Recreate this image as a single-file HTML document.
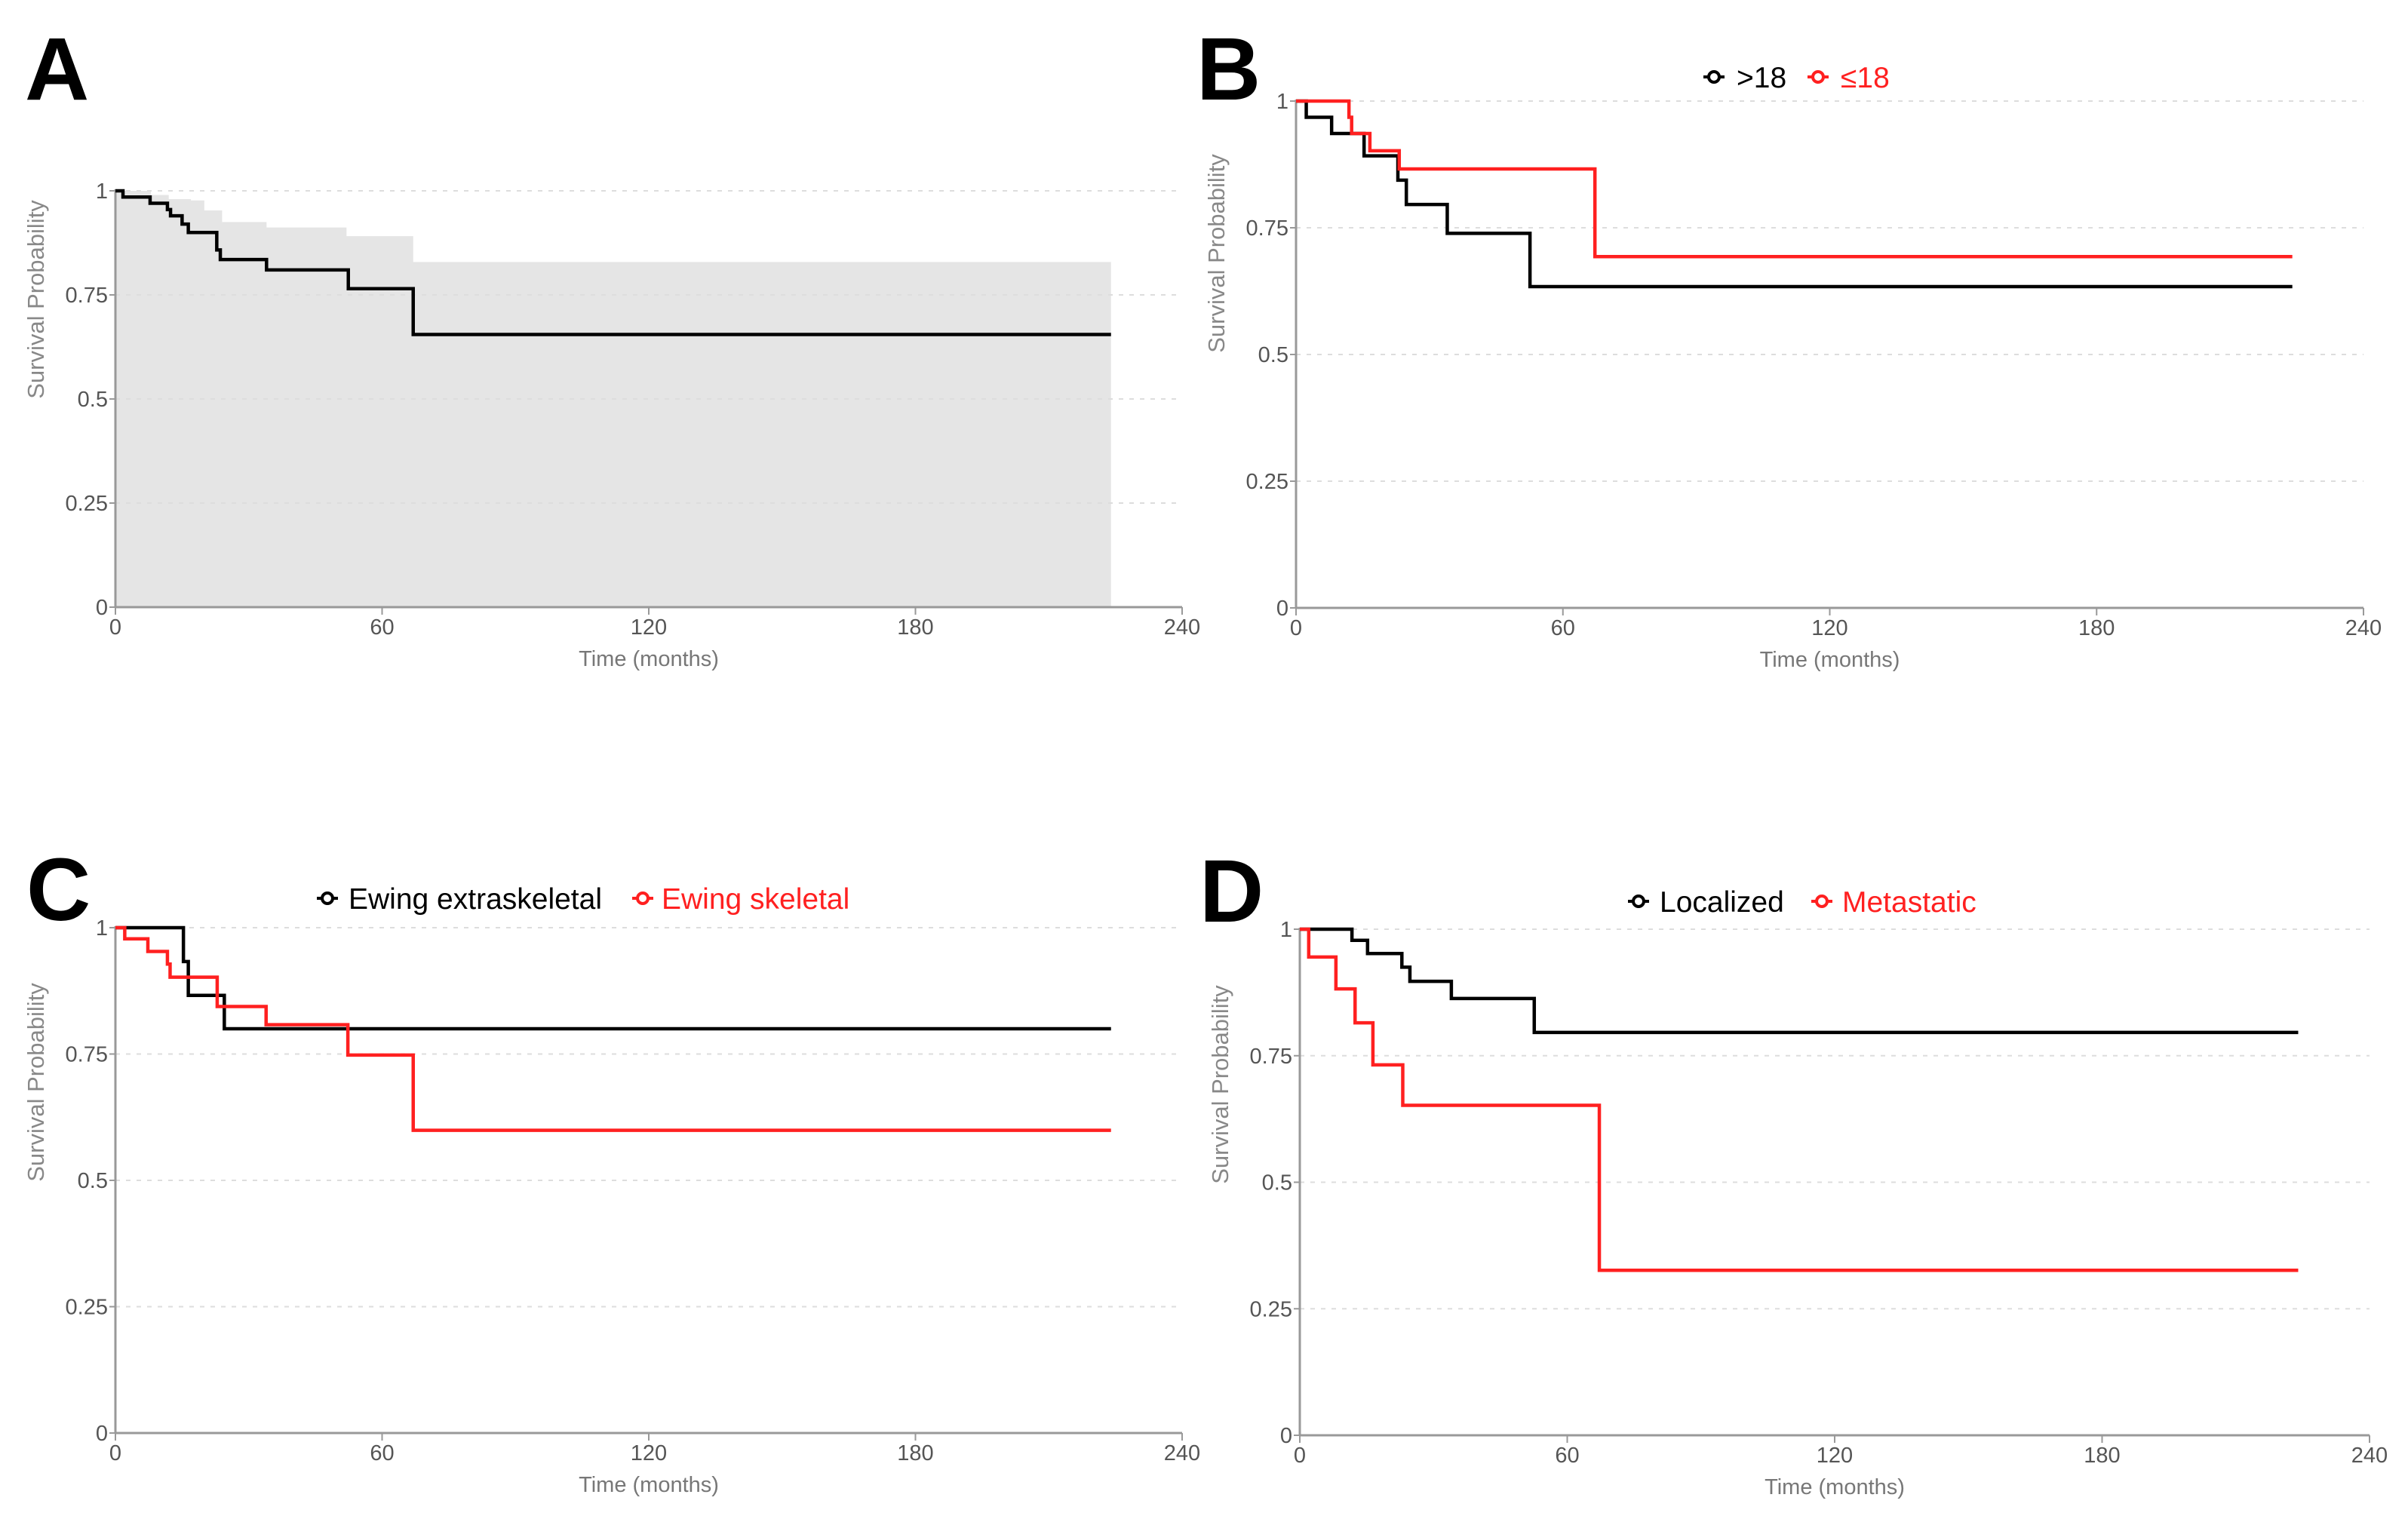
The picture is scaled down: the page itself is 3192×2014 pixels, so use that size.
<!DOCTYPE html>
<html><head><meta charset="utf-8"><style>
html,body{margin:0;padding:0;background:#fff;}
svg{display:block;font-family:"Liberation Sans",sans-serif;}
</style></head><body>
<svg id="fig" width="3192" height="2014" viewBox="0 0 3192 2014" xmlns="http://www.w3.org/2000/svg"></svg>
<script>
// Data (months, survival probability) — step functions
const xTicks = [0, 60, 120, 180, 240];
const yTicks = [0, 0.25, 0.5, 0.75, 1];
const yTickLabels = ["0", "0.25", "0.5", "0.75", "1"];
const endTime = 224;

const aTimes = [0, 1.7, 7.8, 11.7, 12.4, 15, 16.4, 22.8, 23.6, 34, 52.4, 67];
const aSurv  = [1, 0.985, 0.97, 0.955, 0.94, 0.92, 0.9, 0.858, 0.835, 0.81, 0.765, 0.655];
const aCiTimes = [0, 8, 12, 17, 20, 24, 34, 52, 67];
const aCiUpper = [1, 0.99, 0.98, 0.977, 0.953, 0.925, 0.912, 0.891, 0.829];

const bOldTimes = [0, 2.3, 8, 15.3, 22.9, 24.8, 34, 52.6];
const bOldSurv  = [1, 0.968, 0.936, 0.892, 0.844, 0.796, 0.739, 0.634];
const bYoungTimes = [0, 11.9, 12.5, 16.6, 23.2, 67.2];
const bYoungSurv  = [1, 0.968, 0.936, 0.902, 0.866, 0.693];

const cExtraTimes = [0, 15.3, 16.4, 24.5];
const cExtraSurv  = [1, 0.933, 0.866, 0.8];
const cSkelTimes = [0, 2.1, 7.3, 11.7, 12.3, 22.9, 33.9, 52.3, 67];
const cSkelSurv  = [1, 0.978, 0.953, 0.928, 0.902, 0.844, 0.808, 0.748, 0.599];

const dLocTimes = [0, 11.7, 15.2, 22.9, 24.7, 34, 52.6];
const dLocSurv  = [1, 0.978, 0.952, 0.925, 0.897, 0.863, 0.796];
const dMetTimes = [0, 2, 8.1, 12.4, 16.4, 23.1, 67.2];
const dMetSurv  = [1, 0.945, 0.882, 0.815, 0.732, 0.652, 0.326];

const NS = "http://www.w3.org/2000/svg";
const svg = document.getElementById('fig');
function mk(tag, attrs, parent){
  const e = document.createElementNS(NS, tag);
  for (const k in attrs) e.setAttribute(k, attrs[k]);
  (parent||svg).appendChild(e);
  return e;
}
function stepPath(times, surv, sx, sy){
  let d = "M" + sx(times[0]) + "," + sy(surv[0]);
  for (let i = 1; i < times.length; i++){
    d += " H" + sx(times[i]) + " V" + sy(surv[i]);
  }
  d += " H" + sx(endTime);
  return d;
}
function panel(name, letter, lx, ly, x0, x1, y0, y1, titleY){
  const g = mk('g', {});
  
  
  const sx = v => x0 + (v / 240) * (x1 - x0);
  const sy = v => y0 - v * (y0 - y1);
  const L = mk('text', {x: lx, y: ly, 'font-size': 118, 'font-weight': 'bold', fill: '#000'}, g);
  L.textContent = letter;
  
  
  yTicks.forEach((t, i) => {
    if (t > 0){
      const gl = mk('line', {x1: x0, x2: x1, y1: sy(t), y2: sy(t), stroke: '#ddd', 'stroke-width': 2, 'stroke-dasharray': '6,8'}, g);
      
      
    }
    mk('line', {x1: x0 - 8, x2: x0, y1: sy(t), y2: sy(t), stroke: '#999', 'stroke-width': 2}, g);
    const tl = mk('text', {x: x0 - 10, y: sy(t) + 10, 'font-size': 29, fill: '#555', 'text-anchor': 'end'}, g);
    tl.textContent = yTickLabels[i];
    
    
  });
  xTicks.forEach(t => {
    mk('line', {x1: sx(t), x2: sx(t), y1: y0, y2: y0 + 10, stroke: '#999', 'stroke-width': 2}, g);
    const tl = mk('text', {x: sx(t), y: y0 + 36, 'font-size': 29, fill: '#555', 'text-anchor': 'middle'}, g);
    tl.textContent = String(t);
    
    
  });
  const xt = mk('text', {x: (x0 + x1) / 2, y: y0 + 78, 'font-size': 29, fill: '#777', 'text-anchor': 'middle'}, g);
  xt.textContent = 'Time (months)';
  
  
  const yt = mk('text', {x: 0, y: 0, 'font-size': 31, fill: '#888', 'text-anchor': 'middle', transform: 'translate(' + (x0 - 95) + ',' + titleY + ') rotate(-90)'}, g);
  yt.textContent = 'Survival Probability';
  
  
  return {g, sx, sy, x0, x1, y0, y1};
}
function axes(p){
  mk('line', {x1: p.x0, x2: p.x0, y1: p.y1 - 2, y2: p.y0, stroke: '#999', 'stroke-width': 3}, p.g);
  mk('line', {x1: p.x0, x2: p.x1, y1: p.y0, y2: p.y0, stroke: '#999', 'stroke-width': 3}, p.g);
}
function curve(p, times, surv, color, name){
  const c = mk('path', {d: stepPath(times, surv, p.sx, p.sy), fill: 'none', stroke: color, 'stroke-width': 4.5}, p.g);
  
  
}
function legend(p, items, y){
  items.forEach(it => {
    const lg = mk('g', {}, p.g);
    
    
    mk('line', {x1: it.mx - 14, x2: it.mx + 14, y1: y, y2: y, stroke: it.color, 'stroke-width': 4}, lg);
    mk('circle', {cx: it.mx, cy: y, r: 7, fill: '#fff', stroke: it.color, 'stroke-width': 4}, lg);
    const t = mk('text', {x: it.tx, y: y + 14, 'font-size': 39, fill: it.color}, lg);
    t.textContent = it.label;
  });
}
const RED = '#ff2020';

// Panel A
const pA = panel('a', 'A', 33, 132, 153, 1567, 805, 253, 397);
let ciD = "M" + pA.sx(0) + "," + pA.sy(0) + " V" + pA.sy(aCiUpper[0]);
for (let i = 1; i < aCiTimes.length; i++) ciD += " H" + pA.sx(aCiTimes[i]) + " V" + pA.sy(aCiUpper[i]);
ciD += " H" + pA.sx(endTime) + " V" + pA.sy(0) + " Z";
const ci = mk('path', {d: ciD, fill: '#e5e5e5'}, pA.g);


pA.g.insertBefore(ci, pA.g.children[1]);
axes(pA);
curve(pA, aTimes, aSurv, '#000', 'survival-curve-overall');

// Panel B
const pB = panel('b', 'B', 1586, 132, 1718, 3133, 806, 134, 336);
axes(pB);
curve(pB, bOldTimes, bOldSurv, '#000', 'survival-curve-over-18');
curve(pB, bYoungTimes, bYoungSurv, RED, 'survival-curve-under-18');
legend(pB, [{mx: 2272, tx: 2302, label: '>18', color: '#000'}, {mx: 2410, tx: 2440, label: '≤18', color: RED}], 102);

// Panel C
const pC = panel('c', 'C', 35, 1220, 153, 1567, 1900, 1230, 1435);
axes(pC);
curve(pC, cExtraTimes, cExtraSurv, '#000', 'survival-curve-extraskeletal');
curve(pC, cSkelTimes, cSkelSurv, RED, 'survival-curve-skeletal');
legend(pC, [{mx: 434, tx: 462, label: 'Ewing extraskeletal', color: '#000'}, {mx: 852, tx: 877, label: 'Ewing skeletal', color: RED}], 1191);

// Panel D
const pD = panel('d', 'D', 1590, 1222, 1723, 3141, 1903, 1232, 1438);
axes(pD);
curve(pD, dLocTimes, dLocSurv, '#000', 'survival-curve-localized');
curve(pD, dMetTimes, dMetSurv, RED, 'survival-curve-metastatic');
legend(pD, [{mx: 2172, tx: 2200, label: 'Localized', color: '#000'}, {mx: 2415, tx: 2442, label: 'Metastatic', color: RED}], 1195);
</script>
</body></html>
